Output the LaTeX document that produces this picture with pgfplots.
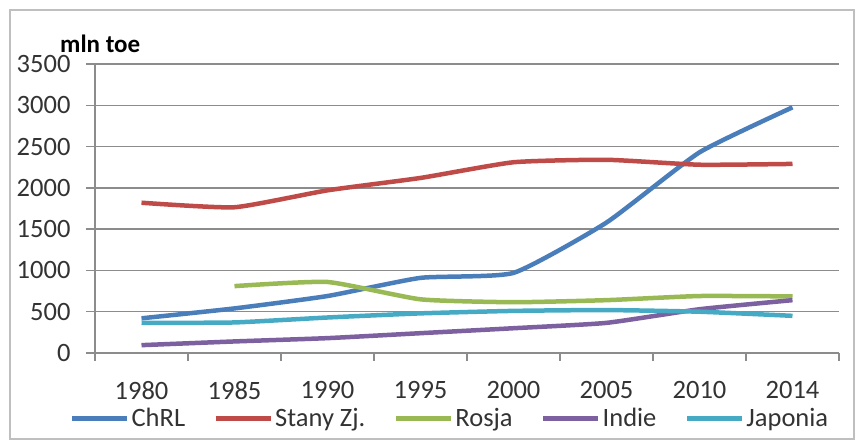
\documentclass[border=0pt]{standalone}
\usepackage{pgfplots}
\pgfplotsset{compat=1.18}
\usepackage{fontspec}
\setmainfont{Carlito}
\definecolor{cblue}{HTML}{4A7EBB}
\definecolor{cred}{HTML}{BE4B48}
\definecolor{cgreen}{HTML}{98B954}
\definecolor{cpurple}{HTML}{7D60A0}
\definecolor{ccyan}{HTML}{46AAC5}
\definecolor{gridc}{HTML}{8C8C8C}
\begin{document}
\begin{tikzpicture}
\path[use as bounding box] (0,0) rectangle (856pt,441pt);
\draw[line width=1.5pt, black!25] (10pt,2pt) rectangle (854pt,431pt);
\node[anchor=west, font=\fontsize{25}{29}\selectfont\bfseries, inner sep=0pt] at (60pt,397pt) {mln toe};
\begin{axis}[
  at={(95pt,88pt)}, anchor=south west,
  scale only axis, width=744pt, height=289pt,
  xmin=-0.5, xmax=7.5, ymin=0, ymax=3500,
  ytick={0,500,...,3500},
  xtick={0,...,7},
  xticklabels={1980,1985,1990,1995,2000,2005,2010,2014},
  minor xtick={-0.5,0.5,...,7.5},
  axis x line*=bottom, axis y line*=left,
  axis line style={gridc, line width=1.5pt, -},
  ymajorgrids, major grid style={gridc, line width=1.5pt},
  tick align=outside,
  major tick length=9pt, minor tick length=8pt,
  x tick style={draw=none},
  minor x tick style={draw=gridc, line width=1.5pt},
  y tick style={gridc, line width=1.5pt},
  tick label style={font=\fontsize{26.5}{30}\selectfont, text=black!80},
  /pgf/number format/assume math mode=true,
  /pgf/number format/set thousands separator={},
  xticklabel style={yshift=-16pt},
  yticklabel style={xshift=-12pt},
  legend columns=5,
  legend style={draw=none, fill=none, at={(0.477,-0.225)}, anchor=center,
    font=\fontsize{26.5}{30}\selectfont, text=black!80,
    /tikz/every even column/.append style={column sep=26pt},
    cells={anchor=west, inner xsep=1pt}},
  legend image code/.code={\draw[#1, line width=5pt] (0pt,0pt) -- (55pt,0pt);},
  every axis plot/.append style={line width=4.5pt, smooth, tension=0.3, line join=round},
]
\addplot[cblue] coordinates {(0,420) (1,540) (2,690) (3,910) (4,970) (5,1580) (6,2430) (7,2975)};
\addlegendentry{ChRL}
\addplot[cred] coordinates {(0,1820) (1,1765) (2,1970) (3,2120) (4,2310) (5,2340) (6,2280) (7,2290)};
\addlegendentry{Stany Zj.}
\addplot[cgreen] coordinates {(1,810) (2,860) (3,650) (4,615) (5,640) (6,690) (7,685)};
\addlegendentry{Rosja}
\addplot[cpurple] coordinates {(0,95) (1,140) (2,180) (3,240) (4,300) (5,365) (6,530) (7,640)};
\addlegendentry{Indie}
\addplot[ccyan] coordinates {(0,365) (1,370) (2,430) (3,480) (4,510) (5,520) (6,500) (7,450)};
\addlegendentry{Japonia}
\end{axis}
\end{tikzpicture}
\end{document}
